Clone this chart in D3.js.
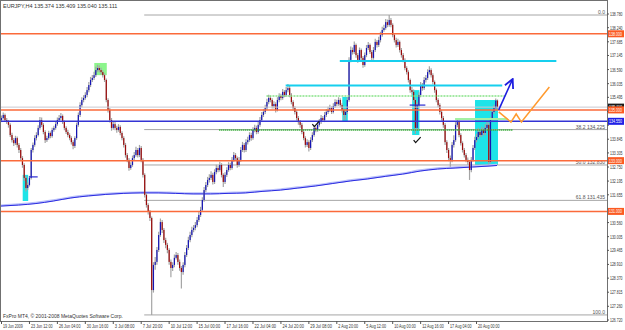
<!DOCTYPE html>
<html>
<head>
<meta charset="utf-8">
<script src="https://cdn.jsdelivr.net/npm/d3@7"></script>
<style>
  body { margin: 0; background: #fff; }
  svg { display: block; font-family: "Liberation Sans", Arial, sans-serif; }
</style>
</head>
<body>
<svg id="chart" width="625" height="330"></svg>
<script>
// EURJPY H4 candles (open of each bar = previous close)
const firstOpen = 134.6;
const closes = [
  134.68,134.80,134.60,134.52,134.41,134.01,133.81,133.69,133.89,133.62,
  133.42,133.10,132.83,132.32,131.92,132.04,132.32,133.42,133.62,133.89,
  134.01,134.29,134.60,134.41,134.13,133.81,133.89,134.09,133.97,134.21,
  134.29,134.44,134.60,134.68,134.76,134.52,134.29,134.13,134.01,133.89,
  133.73,133.58,133.89,134.41,134.80,135.19,135.39,135.47,135.59,135.78,
  135.98,136.18,136.26,136.37,136.57,136.65,136.57,136.49,136.37,136.18,
  135.39,135.00,134.60,134.29,134.44,134.29,134.21,134.33,134.09,133.89,
  133.62,133.22,133.03,132.71,132.83,133.10,133.22,133.42,133.22,133.50,
  133.03,132.44,131.65,131.25,130.98,130.74,127.90,128.89,129.01,129.48,
  130.07,130.58,130.27,129.87,129.68,129.48,129.01,128.77,128.89,129.17,
  129.28,129.01,128.77,128.61,128.89,129.28,129.56,129.87,130.07,130.27,
  130.35,130.46,130.66,130.86,131.06,131.45,131.84,132.04,132.24,132.32,
  132.44,132.16,132.55,132.71,132.63,132.83,132.44,132.16,132.44,132.63,
  132.83,132.71,133.03,133.22,133.10,132.83,133.03,133.42,133.62,133.42,
  133.73,133.81,134.01,133.89,134.21,134.29,134.13,134.41,134.60,134.80,
  134.92,135.07,135.31,135.47,135.39,135.15,135.23,135.00,135.39,135.55,
  135.47,135.71,135.59,135.78,135.86,135.59,135.31,135.07,134.92,134.68,
  134.52,134.41,134.13,133.89,133.62,133.73,133.50,133.81,134.01,134.29,
  134.21,134.41,134.52,134.68,134.60,134.80,134.92,135.00,135.07,134.92,
  135.15,135.31,135.23,135.39,135.19,135.00,134.80,134.92,135.39,136.97,
  137.36,137.28,137.56,137.16,136.97,137.36,137.05,136.77,137.16,137.44,
  137.56,137.28,137.05,137.36,137.68,137.56,137.75,137.95,138.15,138.23,
  138.46,138.35,138.54,138.35,137.95,137.75,137.56,137.68,137.36,137.16,
  136.97,136.65,136.49,136.18,135.78,135.71,135.39,134.29,135.19,135.59,
  135.98,135.86,136.18,136.26,136.49,136.57,136.37,136.10,135.78,135.39,
  135.19,134.92,134.68,134.41,133.73,133.42,133.10,133.03,133.62,133.81,
  134.41,134.52,134.01,133.69,133.42,133.22,133.03,132.95,132.63,133.03,
  133.50,133.81,133.93,134.13,134.01,134.21,134.09,134.29,134.41,132.95,
  134.60,134.92,135.07,135.37,135.11
];
const highs = [
  134.78,134.90,134.86,134.68,134.60,134.47,134.10,133.89,133.98,133.95,
  133.70,133.50,133.18,132.90,132.40,132.14,132.40,133.50,133.72,134.00,
  134.12,134.40,134.72,134.70,134.48,134.20,133.98,134.18,134.15,134.30,
  134.38,134.55,134.70,134.80,134.88,134.82,134.58,134.36,134.22,134.08,
  133.96,133.80,133.96,134.50,134.90,135.30,135.50,135.58,135.70,135.90,
  136.10,136.30,136.38,136.50,136.70,136.78,136.75,136.66,136.56,136.44,
  136.24,135.46,135.08,134.68,134.55,134.52,134.38,134.44,134.40,134.16,
  133.96,133.70,133.30,133.10,132.94,133.20,133.34,133.55,133.50,133.62,
  133.58,133.10,132.50,131.72,131.32,131.06,130.80,129.00,129.20,129.60,
  130.20,130.72,130.66,130.35,129.96,129.76,129.55,129.10,129.00,129.30,
  129.40,129.36,129.10,128.85,129.00,129.40,129.68,130.00,130.20,130.40,
  130.46,130.58,130.78,130.98,131.18,131.56,131.96,132.16,132.36,132.46,
  132.58,132.52,132.66,132.84,132.80,132.96,132.90,132.50,132.54,132.74,
  132.94,132.92,133.14,133.34,133.30,133.16,133.14,133.54,133.74,133.70,
  133.84,133.94,134.12,134.10,134.32,134.42,134.38,134.52,134.72,134.92,
  135.04,135.20,135.44,135.60,135.56,135.46,135.34,135.30,135.50,135.66,
  135.64,135.82,135.78,135.90,136.02,135.94,135.66,135.38,135.14,134.98,
  134.76,134.60,134.48,134.20,133.96,133.84,133.80,133.92,134.12,134.40,
  134.36,134.52,134.64,134.80,134.76,134.92,135.04,135.12,135.20,135.14,
  135.26,135.42,135.40,135.50,135.46,135.26,135.06,135.02,135.50,137.08,
  137.50,137.46,137.70,137.62,137.24,137.46,137.42,137.12,137.26,137.56,
  137.68,137.62,137.36,137.48,137.80,137.76,137.88,138.08,138.28,138.36,
  138.58,138.56,138.74,138.62,138.42,138.02,137.84,137.80,137.74,137.44,
  137.24,137.04,136.72,136.56,136.24,135.90,135.80,135.46,135.30,135.70,
  136.10,136.06,136.30,136.38,136.60,136.72,136.64,136.44,136.16,135.84,
  135.46,135.26,135.00,134.76,134.48,133.80,133.50,133.20,133.74,134.00,
  134.52,134.64,134.58,134.08,133.76,133.50,133.30,133.12,133.02,133.14,
  133.62,133.94,134.06,134.30,134.24,134.34,134.30,134.44,134.54,134.50,
  134.72,135.04,135.20,135.45,135.41
];
const lows = [
  134.52,134.62,134.52,134.44,134.30,133.93,133.72,133.58,133.62,133.52,
  133.30,133.00,132.72,132.20,131.78,131.84,131.98,132.26,133.32,133.55,
  133.80,133.95,134.22,134.33,134.04,133.70,133.74,133.82,133.88,133.90,
  134.14,134.22,134.38,134.52,134.60,134.44,134.20,134.05,133.92,133.80,
  133.64,133.45,133.50,133.82,134.34,134.72,135.10,135.30,135.40,135.50,
  135.70,135.90,136.10,136.18,136.30,136.50,136.48,136.40,136.28,136.10,
  135.30,134.90,134.50,134.18,134.22,134.20,134.10,134.14,134.00,133.80,
  133.52,133.12,132.94,132.60,132.64,132.76,133.02,133.15,133.12,133.14,
  132.94,132.34,131.55,131.15,130.88,130.62,126.92,127.80,128.70,128.90,
  129.40,130.00,130.15,129.75,129.55,129.35,128.90,128.40,128.65,128.80,
  129.10,128.90,128.66,127.96,128.50,128.80,129.20,129.48,129.78,129.98,
  130.18,130.26,130.38,130.58,130.78,130.98,131.38,131.76,131.96,132.14,
  132.24,132.06,132.08,132.46,132.54,132.56,132.34,131.96,132.08,132.36,
  132.56,132.62,132.64,132.96,133.00,132.72,132.76,132.96,133.34,133.32,
  133.34,133.64,133.74,133.78,133.82,134.12,134.04,134.06,134.34,134.52,
  134.72,134.84,135.00,135.22,135.30,135.06,135.06,134.90,134.94,135.30,
  135.38,135.40,135.50,135.52,135.70,135.50,135.22,134.98,134.82,134.58,
  134.42,134.30,134.04,133.80,133.52,133.54,133.36,133.42,133.74,133.94,
  134.12,134.14,134.34,134.44,134.52,134.52,134.72,134.84,134.92,134.84,
  134.86,135.08,135.14,135.16,135.10,134.90,134.60,134.62,134.84,135.32,
  136.88,137.18,137.20,137.06,136.86,136.90,136.96,136.66,136.70,137.08,
  137.36,137.20,136.96,136.98,137.28,137.46,137.48,137.66,137.88,138.08,
  138.16,138.26,138.28,138.26,137.86,137.66,137.46,137.48,137.26,137.06,
  136.88,136.56,136.40,136.08,135.68,135.60,135.30,134.05,134.20,135.10,
  135.50,135.76,135.78,136.08,136.18,136.40,136.28,136.00,135.68,135.30,
  135.10,134.82,134.58,134.30,133.62,133.30,132.98,132.76,132.94,133.52,
  133.74,134.32,133.92,133.60,133.32,133.12,132.94,132.84,132.24,132.54,
  132.96,133.42,133.72,133.84,133.92,133.94,134.00,134.00,134.20,132.86,
  132.90,134.52,134.84,135.00,135.04
];

// 200-period moving average, read every ten bars
const maBars = [0,10,20,30,40,50,60,70,80,90,100,110,120,130,140,150,160,170,180,190,200,210,220,230,240,250,260,270,280,284];
const maValues = [131.21,131.25,131.31,131.41,131.53,131.61,131.67,131.71,131.73,131.73,131.71,131.69,131.69,131.71,131.73,
  131.79,131.84,131.92,132.00,132.10,132.20,132.28,132.38,132.47,132.59,132.67,132.71,132.75,132.79,132.81];

// time axis: one label every 16 bars
const dateLabels = ["19 Jun 2009","23 Jun 12:00","26 Jun 04:00","30 Jun 16:00","3 Jul 08:00","7 Jul 20:00",
  "10 Jul 12:00","15 Jul 00:00","17 Jul 16:00","22 Jul 04:00","24 Jul 20:00","29 Jul 08:00","2 Aug 20:00",
  "5 Aug 12:00","10 Aug 00:00","12 Aug 16:00","17 Aug 04:00","20 Aug 00:00"];
const priceTicks = [138.780,138.240,137.685,137.145,136.590,136.035,135.495,134.940,134.400,133.845,133.305,132.750,
  132.195,131.655,131.100,130.560,130.005,129.465,128.910,128.370,127.815,127.260,126.720];

// drawn objects (bar index / price)
const orangeLevels = [138.0, 135.0, 133.0, 131.0];
const blueLevel = 134.55;
const fibFrom = 82, fibHighBar = 222, fibLowBar = 86;
const fibLevels = [0, 38.2, 50, 61.8, 100];
const cyanLines = [[194, 318, 136.93], [163, 287, 135.96]];
const greenDotted = [[152, 289, 135.55], [125, 293, 134.21]];
const lightGreenLines = [[260, 290, 134.64]];
const blueSegments = [[16, 21, 132.36], [234, 243, 135.19]];
const cyanBoxes = [[13, 15, 132.44, 131.41], [196, 198, 135.51, 134.56], [236, 239, 135.78, 134.01], [272, 284, 135.39, 132.83]];
const greenBoxes = [[54, 60, 136.85, 136.37]];
const arrowBlue = [[285, 135.00], [293, 136.22]];
const zigzagOrange = [[285, 134.92], [292, 134.52], [295, 134.84], [298, 134.52], [314, 135.90]];
const checkMarks = [[180, 134.44], [238, 133.81]];

let svg = d3.select("#chart");

let dims = { right: 607, bottom: 321 }; // plot area edge (price axis on the right)

let xScale = d3.scaleLinear().domain([0, 347]).range([1, dims.right]); // bar index -> x
let yScale = d3.scaleLinear().domain([126.72, 138.78]).range([320, 14]);

let bars = closes.map((c, i) => ({
  i: i, o: i ? closes[i - 1] : firstOpen, h: highs[i], l: lows[i], c: c
}));

svg.append("rect").attr("width", 625).attr("height", 330).attr("fill", "#fff");

let plot = svg.append("g");

// rectangles sit behind the candles
plot.selectAll(".cyanbox").data(cyanBoxes).enter().append("rect")
  .attr("x", d => xScale(d[0]) - 1)
  .attr("width", d => xScale(d[1]) - xScale(d[0]) + 2)
  .attr("y", d => yScale(d[2]))
  .attr("height", d => yScale(d[3]) - yScale(d[2]))
  .attr("fill", "#1de4e8");

plot.selectAll(".greenbox").data(greenBoxes).enter().append("rect")
  .attr("x", d => xScale(d[0]) - 1)
  .attr("width", d => xScale(d[1]) - xScale(d[0]) + 2)
  .attr("y", d => yScale(d[2]))
  .attr("height", d => yScale(d[3]) - yScale(d[2]))
  .attr("fill", "#8cf58c");

// fibonacci retracement
let fibHigh = highs[fibHighBar], fibLow = lows[fibLowBar];
let fib = fibLevels.map(l => ({ l: l, p: fibHigh - (fibHigh - fibLow) * l / 100 }));
plot.selectAll(".fib").data(fib).enter().append("line")
  .attr("x1", xScale(fibFrom)).attr("x2", dims.right)
  .attr("y1", d => yScale(d.p)).attr("y2", d => yScale(d.p))
  .attr("stroke", "#a6a6a6").attr("stroke-width", 1);
plot.selectAll(".fibtxt").data(fib).enter().append("text")
  .attr("x", dims.right - 2).attr("y", d => yScale(d.p) - 1)
  .attr("text-anchor", "end").attr("font-size", 5).attr("fill", "#555")
  .text(d => (d.l === 0 || d.l === 100) ? d.l.toFixed(1) : d.l.toFixed(1) + "  " + d.p.toFixed(3));

// moving average
let maLine = d3.line().x((d, k) => xScale(maBars[k])).y(d => yScale(d)).curve(d3.curveMonotoneX);
plot.append("path").attr("d", maLine(maValues)).attr("fill", "none").attr("stroke", "#b9c0fb").attr("stroke-width", 2.2)
  .attr("transform", "translate(0,-0.6)");
plot.append("path").attr("d", maLine(maValues)).attr("fill", "none").attr("stroke", "#2a2ae0").attr("stroke-width", 1);

// candles
plot.selectAll(".wick").data(bars).enter().append("line")
  .attr("x1", d => xScale(d.i) + 0.5).attr("x2", d => xScale(d.i) + 0.5)
  .attr("y1", d => yScale(d.h)).attr("y2", d => yScale(d.l))
  .attr("stroke", "#a4a4a4").attr("stroke-width", 1.2);
plot.selectAll(".body").data(bars).enter().append("rect")
  .attr("x", d => xScale(d.i) - 0.1)
  .attr("width", 1.2)
  .attr("y", d => yScale(Math.max(d.o, d.c)))
  .attr("height", d => Math.max(1, Math.abs(yScale(d.o) - yScale(d.c))))
  .attr("fill", d => d.c >= d.o ? "#1414b4" : "#9a0a0a");

// horizontal levels
function hline(price, color, width, dash) {
  plot.append("line").attr("x1", 0).attr("x2", dims.right)
    .attr("y1", yScale(price)).attr("y2", yScale(price))
    .attr("stroke", color).attr("stroke-width", width)
    .attr("stroke-dasharray", dash || null);
}
hline(closes[closes.length - 1], "#c8c8d0", 1);
orangeLevels.forEach(p => hline(p, "#fb6a3a", 1.5));
hline(blueLevel, "#3434d4", 1.5);

function seg(list, color, width, dash) {
  plot.selectAll(null).data(list).enter().append("line")
    .attr("x1", d => xScale(d[0])).attr("x2", d => xScale(d[1]))
    .attr("y1", d => yScale(d[2])).attr("y2", d => yScale(d[2]))
    .attr("stroke", color).attr("stroke-width", width)
    .attr("stroke-dasharray", dash || null);
}
seg(cyanLines, "#16cfee", 2);
seg([greenDotted[0]], "#86e286", 1.5, "2,1");
seg([greenDotted[1]], "#3aae3a", 2, "1,1");
seg(lightGreenLines, "#a4f0a4", 2);
seg(blueSegments, "#2a2ad0", 1.2);

// hand drawn projections
svg.append("defs").append("marker").attr("id", "head")
  .attr("viewBox", "0 0 10 10").attr("refX", 9).attr("refY", 5)
  .attr("markerWidth", 7).attr("markerHeight", 7).attr("orient", "auto")
  .append("path").attr("d", "M1,1 L9,5 L1,9").attr("fill", "none")
  .attr("stroke", "#1e1ee0").attr("stroke-width", 1.6);
let pl = d3.line().x(d => xScale(d[0])).y(d => yScale(d[1]));
plot.append("path").attr("d", pl(arrowBlue)).attr("fill", "none")
  .attr("stroke", "#1e1ee0").attr("stroke-width", 1.6).attr("marker-end", "url(#head)");
plot.append("path").attr("d", pl(zigzagOrange)).attr("fill", "none")
  .attr("stroke", "#ff9a2e").attr("stroke-width", 1.5);

// tick marks drawn by hand on the chart
plot.selectAll(".check").data(checkMarks).enter().append("path")
  .attr("transform", d => "translate(" + xScale(d[0]) + "," + yScale(d[1]) + ")")
  .attr("d", "M-3,0 L-1,2.5 L4,-3")
  .attr("fill", "none").attr("stroke", "#111").attr("stroke-width", 1.2);

// header and footer text
svg.append("text").attr("x", 3).attr("y", 8).attr("font-size", 5.5).attr("fill", "#333")
  .text("EURJPY,H4  135.374 135.409 135.040 135.111");
svg.append("text").attr("x", 3).attr("y", 318).attr("font-size", 5).attr("fill", "#333")
  .text("FxPro MT4, \u00a9 2001-2008 MetaQuotes Software Corp.");

// frame and axes
svg.append("rect").attr("x", 0.5).attr("y", 0.5).attr("width", dims.right).attr("height", dims.bottom)
  .attr("fill", "none").attr("stroke", "#707070");

// price tags on the axis
let tags = [[138.0, "#fb5a22"], [closes[closes.length - 1], "#1a1a1a"], [135.0, "#fb5a22"],
  [blueLevel, "#2020e6"], [133.0, "#fb5a22"], [131.0, "#fb5a22"]];

// tick labels hidden behind a tag are left out, as on the terminal
let shownTicks = priceTicks.filter(v => !tags.some(t => Math.abs(yScale(t[0]) - yScale(v)) < 5));

svg.selectAll(".ptick").data(priceTicks).enter().append("line")
  .attr("x1", dims.right).attr("x2", dims.right + 2)
  .attr("y1", d => yScale(d)).attr("y2", d => yScale(d)).attr("stroke", "#555");
svg.selectAll(".plab").data(shownTicks).enter().append("text")
  .attr("x", dims.right + 3).attr("y", d => yScale(d) + 2)
  .attr("font-size", 5).attr("fill", "#333")
  .attr("textLength", 12.5).attr("lengthAdjust", "spacingAndGlyphs")
  .text(d => d.toFixed(3));

svg.selectAll(".dtick").data(dateLabels).enter().append("line")
  .attr("x1", (d, k) => xScale(k * 16) + 0.5).attr("x2", (d, k) => xScale(k * 16) + 0.5)
  .attr("y1", dims.bottom).attr("y2", dims.bottom + 3).attr("stroke", "#555");
svg.selectAll(".dlab").data(dateLabels).enter().append("text")
  .attr("x", (d, k) => xScale(k * 16) + 2).attr("y", 328)
  .attr("font-size", 5).attr("fill", "#333")
  .attr("textLength", d => d.length * 1.8).attr("lengthAdjust", "spacingAndGlyphs")
  .text(d => d);

let tg = svg.selectAll(".tag").data(tags).enter().append("g");
tg.append("rect").attr("x", dims.right + 1).attr("y", d => yScale(d[0]) - 3.5)
  .attr("width", 16).attr("height", 7).attr("fill", d => d[1]);
tg.append("text").attr("x", dims.right + 2).attr("y", d => yScale(d[0]) + 2)
  .attr("font-size", 5).attr("fill", "#fff")
  .attr("textLength", 13).attr("lengthAdjust", "spacingAndGlyphs")
  .text(d => d[0].toFixed(3));
</script>
</body>
</html>
